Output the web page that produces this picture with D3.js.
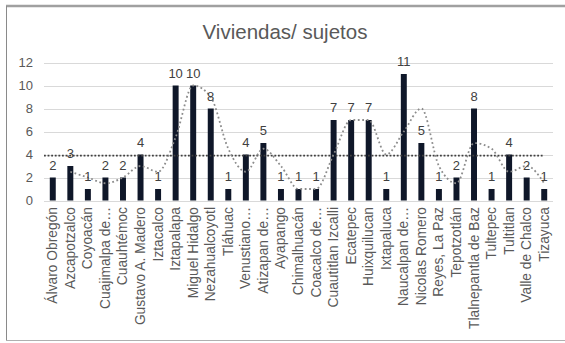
<!DOCTYPE html>
<html>
<head>
<meta charset="utf-8">
<script src="https://cdn.jsdelivr.net/npm/d3@7"></script>
<style>
  html, body { margin: 0; padding: 0; background: #fff; }
  svg { display: block; font-family: "Liberation Sans", Arial, sans-serif; }
</style>
</head>
<body>
<svg id="chart" width="565" height="343"></svg>
<script>
const categories = ["Álvaro Obregón","Azcapotzalco","Coyoacán","Cuajimalpa de…","Cuauhtémoc","Gustavo A. Madero","Iztacalco","Iztapalapa","Miguel Hidalgo","Nezahualcoyotl","Tláhuac","Venustiano…","Atizapan de…","Ayapango","Chimalhuacán","Coacalco de…","Cuautitlan Izcalli","Ecatepec","Huixquilucan","Ixtapaluca","Naucalpan de…","Nicolas Romero","Reyes, La Paz","Tepotzotlán","Tlalnepantla de Baz","Tultepec","Tultitlan","Valle de Chalco","Tizayuca"];
const values = [2,3,1,2,2,4,1,10,10,8,1,4,5,1,1,1,7,7,7,1,11,5,1,2,8,1,4,2,1];
// 2-period moving average as shown (starts at the 2nd category)
const movingAvg = [null,2.5,2,1.5,2,3,2.5,5.5,10,9,4.5,2.5,4.5,3,1,1,4,7,7,4,6,8,3,1.5,5,4.5,2.5,3,1.5];
const averageLevel = 3.9;
const yTicks = [0,2,4,6,8,10,12];
const title = "Viviendas/ sujetos";

const svg = d3.select("#chart");

// frame
svg.append("line").attr("x1",6).attr("x2",565).attr("y1",6).attr("y2",6)
  .attr("stroke","#a0a0a0").attr("stroke-width",2.5);
svg.append("line").attr("x1",6.5).attr("x2",6.5).attr("y1",6).attr("y2",341)
  .attr("stroke","#8a8a8a").attr("stroke-width",1);
svg.append("line").attr("x1",6).attr("x2",565).attr("y1",340.5).attr("y2",340.5)
  .attr("stroke","#b0b0b0").attr("stroke-width",1);

const x = d3.scaleBand().domain(categories).range([44, 553]).paddingInner(0.66).paddingOuter(0.33);
const y = d3.scaleLinear().domain([0, 12]).range([200.5, 62.5]);

// title
svg.append("text").attr("x", 285).attr("y", 39).attr("text-anchor","middle")
  .attr("font-size", 20.5).attr("fill","#595959").text(title);

// gridlines
svg.append("g").selectAll("line").data(yTicks).join("line")
  .attr("x1", 44).attr("x2", 553)
  .attr("y1", d => Math.round(y(d)) + 0.5).attr("y2", d => Math.round(y(d)) + 0.5)
  .attr("stroke", "#d9d9d9").attr("stroke-width", 1);

// y axis labels
const yAxis = svg.append("g").attr("transform","translate(37,0)")
  .call(d3.axisLeft(y).tickValues(yTicks).tickSize(0).tickPadding(4));
yAxis.select(".domain").remove();
yAxis.selectAll("text").attr("font-size", 13).attr("fill","#595959")
  .attr("font-family", "Liberation Sans, Arial, sans-serif");

// bars
svg.append("g").selectAll("rect").data(values).join("rect")
  .attr("x", (d,i) => x(categories[i]))
  .attr("width", x.bandwidth())
  .attr("y", d => y(d))
  .attr("height", d => y(0) - y(d))
  .attr("fill", "#0f1729");

// average line
const lastCenter = x(categories[categories.length-1]) + x.bandwidth()/2;
svg.append("line").attr("x1", 44).attr("x2", lastCenter)
  .attr("y1", y(averageLevel)).attr("y2", y(averageLevel))
  .attr("stroke", "#404040").attr("stroke-width", 1.8).attr("stroke-dasharray", "1.8,1.8");

// moving average line
const maPts = movingAvg.map((v,i) => ({v, c: categories[i]})).filter(d => d.v !== null);
const line = d3.line()
  .x(d => x(d.c) + x.bandwidth()/2)
  .y(d => y(d.v))
  .curve(d3.curveMonotoneX);
svg.append("path").datum(maPts).attr("d", line)
  .attr("fill","none").attr("stroke","#8c8c8c").attr("stroke-width",1.8)
  .attr("stroke-dasharray","1.8,2.6");

// data labels
svg.append("g").selectAll("text").data(values).join("text")
  .attr("x", (d,i) => x(categories[i]) + x.bandwidth()/2)
  .attr("y", d => y(d) - 8)
  .attr("text-anchor","middle").attr("font-size", 13).attr("fill","#404040")
  .text(d => d);

// category labels
svg.append("g").selectAll("text").data(categories).join("text")
  .attr("transform", d => `translate(${x(d) + x.bandwidth()/2 + 4.5},207) rotate(-90)`)
  .attr("text-anchor","end").attr("font-size", 13.8).attr("fill","#595959")
  .text(d => d);
</script>
</body>
</html>
